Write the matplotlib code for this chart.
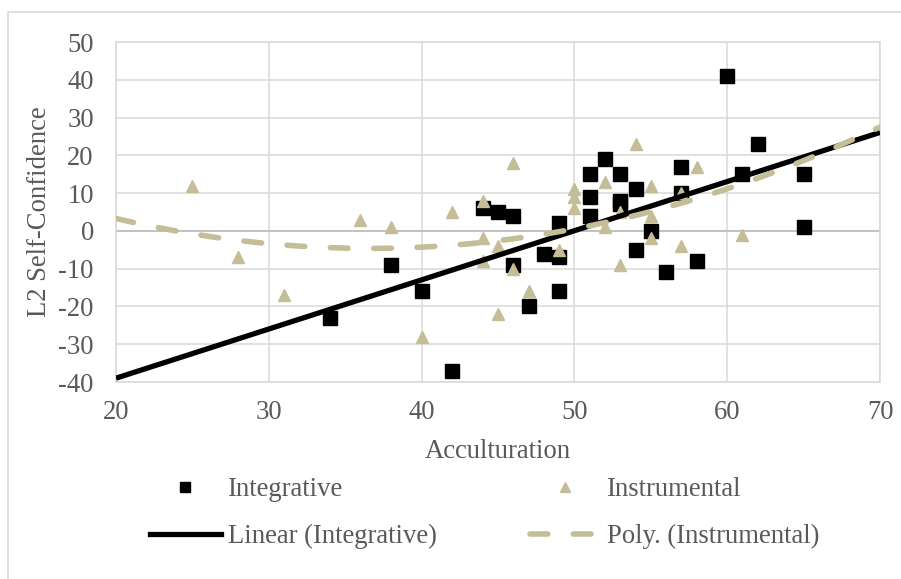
#!/usr/bin/env python
# -*- coding: utf-8 -*-
"""Acculturation vs L2 self-confidence, Excel-style scatter with trendlines"""
import numpy as np
import matplotlib
matplotlib.use("Agg")
import matplotlib.pyplot as plt
from matplotlib.lines import Line2D
from matplotlib.patches import Rectangle

# values
integrative_x = [34, 38, 40, 42, 44, 45, 46, 46, 47, 48, 49, 49, 49, 51, 51,
                 51, 52, 53, 53, 53, 54, 54, 55, 56, 57, 57, 58, 60, 61, 62,
                 65, 65]
integrative_y = [-23, -9, -16, -37, 6, 5, 4, -9, -20, -6, -7, -16, 2, 15, 9,
                 4, 19, 15, 8, 7, 11, -5, 0, -11, 17, 10, -8, 41, 15, 23,
                 15, 1]

instrumental_x = [25, 28, 31, 36, 38, 40, 42, 44, 44, 44, 45, 45, 46, 46, 47,
                  49, 50, 50, 50, 52, 52, 53, 53, 54, 55, 55, 55, 57, 57, 58,
                  61]
instrumental_y = [12, -7, -17, 3, 1, -28, 5, 8, -2, -8, -4, -22, 18, -10, -16,
                  -5, 11, 9, 6, 13, 1, 5, -9, 23, 12, 4, -2, 10, -4, 17,
                  -1]

x_ticks = [20, 30, 40, 50, 60, 70]
y_ticks = [-40, -30, -20, -10, 0, 10, 20, 30, 40, 50]

TAN = "#c4bd97"
GRID = "#d9d9d9"
TEXT = "#595959"
FONT = 19.2
DASH = (0, (3.2, 4.6))

plt.rcParams["font.family"] = ["Liberation Serif", "DejaVu Serif"]
plt.rcParams["axes.unicode_minus"] = False

fig = plt.figure(figsize=(9.01, 5.79), dpi=100)
# outer chart border
fig.patches.append(Rectangle((8 / 901, -0.05), 1.0, 1 - 12 / 579 + 0.05,
                             transform=fig.transFigure, fill=False,
                             edgecolor=GRID, linewidth=1.2))

ax = fig.add_axes([116 / 901, 1 - 382 / 579, 764 / 901, 340 / 579])
ax.set_xlim(20, 70)
ax.set_ylim(-40, 50)
ax.set_xticks(x_ticks)
ax.set_yticks(y_ticks)
ax.grid(True, color=GRID, linewidth=1.1)
ax.set_axisbelow(True)
for spine in ax.spines.values():
    spine.set_color(GRID)
    spine.set_linewidth(1.1)
ax.axhline(0, color="#bfbfbf", linewidth=1.3, zorder=1)
ax.tick_params(length=0, labelsize=FONT, labelcolor=TEXT)
ax.tick_params(axis="y", pad=16)
ax.tick_params(axis="x", pad=13)

ax.plot(integrative_x, integrative_y, linestyle="none", marker="s",
        markersize=10, color="black", zorder=3)
ax.plot(instrumental_x, instrumental_y, linestyle="none", marker="^",
        markersize=8.6, color=TAN, zorder=4)

# trendlines as Excel would compute them, drawn across the full axis
trend_x = np.linspace(20, 70, 200)
lin = np.polyfit(integrative_x, integrative_y, 1)
poly = np.polyfit(instrumental_x, instrumental_y, 2)
ax.plot(trend_x, np.polyval(lin, trend_x), color="black", linewidth=3.8,
        solid_capstyle="butt", zorder=5)
ax.plot(trend_x, np.polyval(poly, trend_x), color=TAN, linewidth=4,
        linestyle=DASH, dash_capstyle="round", zorder=6)

ax.set_xlabel("Acculturation", fontsize=FONT, color=TEXT)
ax.set_ylabel("L2 Self-Confidence", fontsize=FONT, color=TEXT)
ax.xaxis.set_label_coords(0.5, 1 - (439 - 42) / 340)
ax.yaxis.set_label_coords(-(116 - 52) / 764, 0.5)

handles = [
    Line2D([], [], linestyle="none", marker="s", markersize=7.5,
           color="black"),
    Line2D([], [], color="black", linewidth=3.8),
    Line2D([], [], linestyle="none", marker="^", markersize=6.5, color=TAN),
    Line2D([], [], color=TAN, linewidth=4, linestyle=DASH,
           dash_capstyle="round"),
]
labels = ["Integrative", "Linear (Integrative)", "Instrumental",
          "Poly. (Instrumental)"]
leg = fig.legend(handles, labels, ncol=2, loc="upper left",
                 bbox_to_anchor=(150 / 901, 1 - 477 / 579), frameon=False,
                 borderpad=0, borderaxespad=0, handlelength=2.66,
                 handletextpad=0.26, columnspacing=3.48, labelspacing=0.82,
                 fontsize=FONT)
for text in leg.get_texts():
    text.set_color(TEXT)

fig.savefig("out.png", dpi=100)
